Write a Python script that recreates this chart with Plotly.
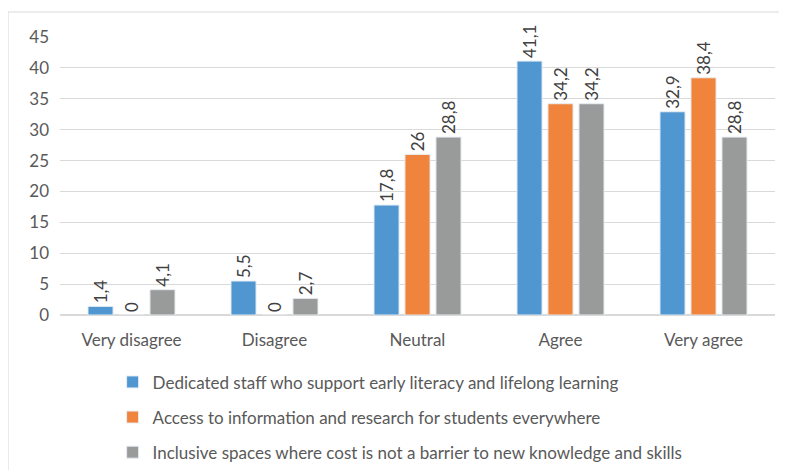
import plotly.graph_objects as go

categories = ["Very disagree", "Disagree", "Neutral", "Agree", "Very agree"]
series_names = [
    "Dedicated staff who support early literacy and lifelong learning",
    "Access to information and research for students everywhere",
    "Inclusive spaces where cost is not a barrier to new knowledge and skills",
]
staff = [1.4, 5.5, 17.8, 41.1, 32.9]
access = [0, 0, 26, 34.2, 38.4]
inclusive = [4.1, 2.7, 28.8, 34.2, 28.8]
y_ticks = [0, 5, 10, 15, 20, 25, 30, 35, 40, 45]

colors = ["#5096D0", "#F0843C", "#999B9B"]
FONT = "Lato"

def lab(v):
    return f"{v:g}".replace(".", ",")

fig = go.Figure()
for i, (name, vals) in enumerate(zip(series_names, [staff, access, inclusive])):
    fig.add_trace(go.Bar(
        x=categories, y=vals, name=name,
        marker=dict(color=colors[i], line=dict(color="#E8EEF4", width=1)),
        text=[lab(v) for v in vals], textposition="outside", textangle=-90,
        textfont=dict(family=FONT, size=17, color="#404040"),
        cliponaxis=False, legendgroup=f"g{i}",
    ))

fig.update_layout(
    width=779, height=462,
    margin=dict(l=52, r=12, t=29, b=155, autoexpand=False),
    paper_bgcolor="white", plot_bgcolor="white",
    barmode="group", bargap=0.35, bargroupgap=0.19,
    uniformtext=dict(minsize=17, mode="show"),
    font=dict(family=FONT, size=17, color="#595959"),
    showlegend=True,
    legend=dict(orientation="v", x=0.0736, xanchor="left", y=-0.559, yanchor="bottom",
                font=dict(family=FONT, size=17, color="#595959"),
                tracegroupgap=10, itemwidth=30, bgcolor="rgba(0,0,0,0)"),
    shapes=[dict(type="rect", xref="paper", yref="paper",
                 x0=-0.0727, x1=1.2, y0=-1.0, y1=1.09,
                 line=dict(color="#D9D9D9", width=1), layer="below")],
)
fig.update_yaxes(range=[0, 45], tickvals=y_ticks, showgrid=True, gridcolor="#D9D9D9",
                 gridwidth=1, zeroline=True, zerolinecolor="#D9D9D9", showline=False,
                 tickfont=dict(family=FONT, size=17, color="#595959"), ticklabelstandoff=10,
                 automargin=False)
fig.update_xaxes(showline=True, linecolor="#D9D9D9", tickfont=dict(family=FONT, size=17, color="#595959"),
                 ticks="", ticklabelstandoff=10, automargin=False)

fig.write_html("out.html")
